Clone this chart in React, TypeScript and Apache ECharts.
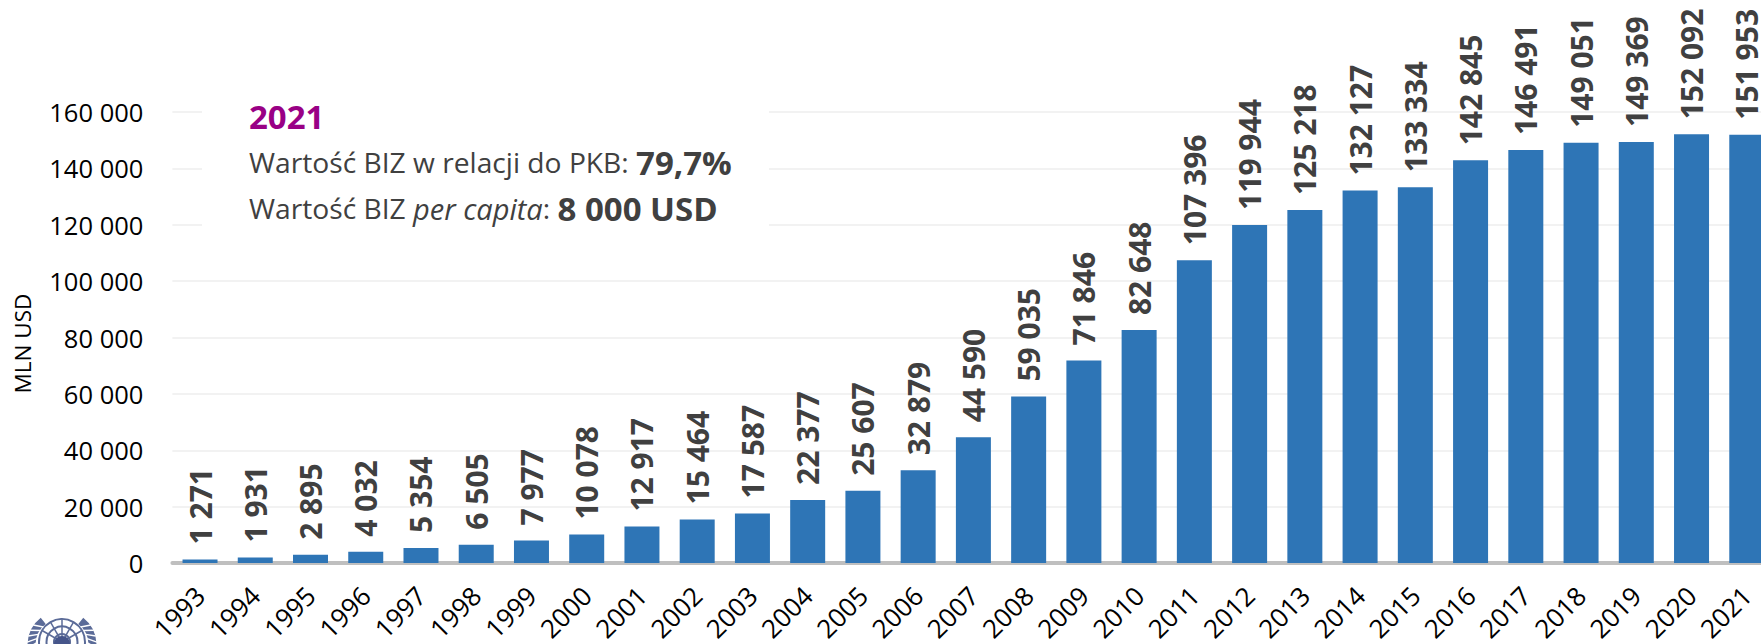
import React, { useEffect, useRef } from "react";
import * as echarts from "echarts";

const years = ["1993","1994","1995","1996","1997","1998","1999","2000","2001","2002","2003","2004","2005","2006","2007","2008","2009","2010","2011","2012","2013","2014","2015","2016","2017","2018","2019","2020","2021"];
const values = [1271,1931,2895,4032,5354,6505,7977,10078,12917,15464,17587,22377,25607,32879,44590,59035,71846,82648,107396,119944,125218,132127,133334,142845,146491,149051,149369,152092,151953];
const insetTitle = "2021";
const insetShare = ["Wartość BIZ w relacji do PKB: ", "79,7%"];
const insetPerCapita = ["Wartość BIZ ", "per capita", ": ", "8 000 USD"];
const axisName = "MLN USD";

const FONT = "'Open Sans', sans-serif";
const fmt = (v: number) => String(v).replace(/\B(?=(\d{3})+(?!\d))/g, " ");
const LOGO = "#5b6b98";

function logo(): any[] {
  const cx = 62, cy = 642;
  const out: any[] = [];
  [8, 15.5, 23].forEach((r) =>
    out.push({ type: "circle", shape: { cx, cy, r }, style: { fill: "none", stroke: LOGO, lineWidth: 2 } })
  );
  [-60, -30, 0, 30, 60].forEach((d) => {
    const a = (d * Math.PI) / 180;
    out.push({ type: "line", shape: { x1: cx, y1: cy, x2: cx + 23 * Math.sin(a), y2: cy - 23 * Math.cos(a) }, style: { stroke: LOGO, lineWidth: 1.5 } });
  });
  out.push({ type: "circle", shape: { cx, cy: cy + 2, r: 8 }, style: { fill: "#46558a" } });
  const wy = 645, wr = 30.5;
  out.push({
    type: "arc",
    shape: { cx, cy: wy, r: wr, startAngle: (-52 * Math.PI) / 180, endAngle: 0, clockwise: true },
    style: { fill: "none", stroke: LOGO, lineWidth: 8 },
  });
  out.push({
    type: "arc",
    shape: { cx, cy: wy, r: wr, startAngle: Math.PI, endAngle: (232 * Math.PI) / 180, clockwise: true },
    style: { fill: "none", stroke: LOGO, lineWidth: 8 },
  });
  [-1, 1].forEach((s) => {
    for (let i = 0; i < 5; i++) {
      const a = ((46 + i * 10) * Math.PI) / 180;
      const a2 = a + 0.16;
      out.push({
        type: "line",
        shape: {
          x1: cx + s * 26 * Math.sin(a),
          y1: wy - 26 * Math.cos(a),
          x2: cx + s * 35 * Math.sin(a2),
          y2: wy - 35 * Math.cos(a2),
        },
        style: { stroke: "#ffffff", lineWidth: 1.4 },
      });
    }
  });
  return out;
}

export default function App() {
  const ref = useRef<HTMLDivElement>(null);
  useEffect(() => {
    document.body.style.margin = "0";
    const chart = echarts.init(ref.current!, undefined, { renderer: "svg" });
    chart.setOption({
      animation: false,
      backgroundColor: "#ffffff",
      textStyle: { fontFamily: FONT },
      grid: { left: 172.4, top: 112, width: 1602, height: 451, containLabel: false, outerBoundsMode: "none" },
      xAxis: {
        type: "category",
        data: years,
        axisLine: { lineStyle: { color: "#bfbfbf", width: 4 } },
        axisTick: { show: false },
        axisLabel: { rotate: 45, interval: 0, fontSize: 26, color: "#000000", margin: 28, fontFamily: FONT },
      },
      yAxis: {
        type: "value",
        min: 0,
        max: 160000,
        interval: 20000,
        name: axisName,
        nameLocation: "middle",
        nameGap: 138,
        nameTextStyle: { fontSize: 22.5, color: "#000000", fontFamily: FONT, padding: [0, 12, 0, 0] },
        axisLine: { show: false },
        axisTick: { show: false },
        splitLine: { lineStyle: { color: "#f2f2f2", width: 2 } },
        axisLabel: { fontSize: 25.5, color: "#000000", margin: 29, formatter: (v: number) => fmt(v), fontFamily: FONT },
      },
      series: [
        {
          type: "bar",
          data: values,
          barWidth: 35,
          itemStyle: { color: "#2e75b6" },
          label: {
            show: true,
            position: "top",
            rotate: 90,
            align: "left",
            verticalAlign: "middle",
            distance: 15,
            fontSize: 30,
            fontWeight: 700,
            color: "#404040",
            fontFamily: FONT,
            formatter: (p: any) => fmt(p.value),
          },
        },
      ],
      graphic: [
        { type: "rect", z: 10, shape: { x: 202, y: 95, width: 567, height: 138 }, style: { fill: "#ffffff" } },
        {
          type: "text", z: 11, x: 249, y: 116,
          style: { text: insetTitle, fontFamily: FONT, fontSize: 33, fontWeight: 700, fill: "#990085", verticalAlign: "middle" },
        },
        {
          type: "text", z: 11, x: 249, y: 162,
          style: {
            text: `{a|${insetShare[0]}}{b|${insetShare[1]}}`,
            verticalAlign: "middle",
            rich: {
              a: { fontFamily: FONT, fontSize: 28.2, fill: "#404040", color: "#404040" },
              b: { fontFamily: FONT, fontSize: 33, fontWeight: 700, fill: "#404040", color: "#404040" },
            },
          },
        },
        {
          type: "text", z: 11, x: 249, y: 208,
          style: {
            text: `{a|${insetPerCapita[0]}}{i|${insetPerCapita[1]}}{a|${insetPerCapita[2]}}{b|${insetPerCapita[3]}}`,
            verticalAlign: "middle",
            rich: {
              a: { fontFamily: FONT, fontSize: 28.2, fill: "#404040", color: "#404040" },
              i: { fontFamily: FONT, fontSize: 29, fontStyle: "italic", fill: "#404040", color: "#404040" },
              b: { fontFamily: FONT, fontSize: 33, fontWeight: 700, fill: "#404040", color: "#404040" },
            },
          },
        },
        { type: "group", z: 11, children: logo() },
      ],
    });
    return () => chart.dispose();
  }, []);
  return <div ref={ref} style={{ width: 1761, height: 644 }} />;
}
